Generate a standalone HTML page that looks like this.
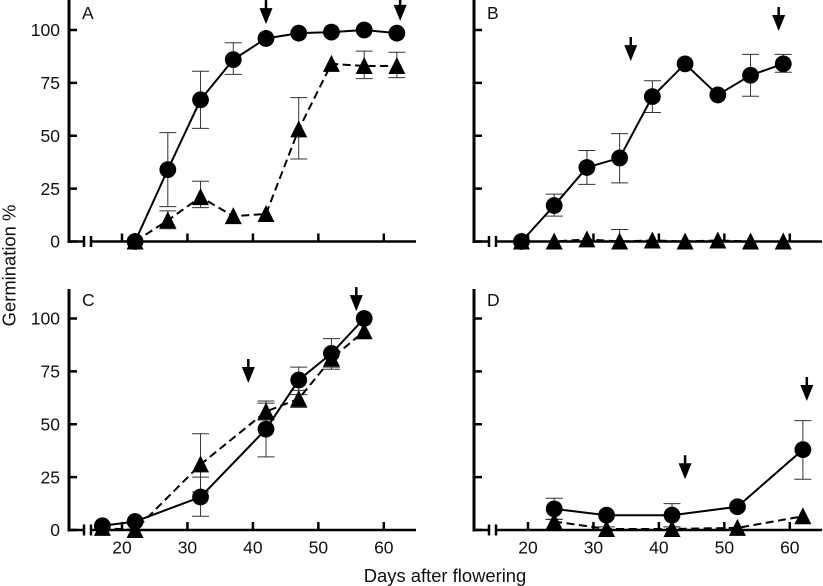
<!DOCTYPE html>
<html lang="en">
<head>
<meta charset="utf-8">
<title>Germination chart</title>
<style>
html,body{margin:0;padding:0;background:#fff;}
svg{display:block;}
text{font-family:"Liberation Sans",Arial,sans-serif;fill:#111;}
</style>
</head>
<body>
<svg id="chart" xmlns="http://www.w3.org/2000/svg" width="823" height="586" viewBox="0 0 823 586">
<text x="0" y="0" font-size="18.4" text-anchor="middle" transform="translate(15.5,265.5) rotate(-90)">Germination %</text>
<text x="445" y="582" font-size="18.4" text-anchor="middle">Days after flowering</text>
</svg>
<script>
const yTicks = [0, 25, 50, 75, 100];
const xTicks = [20, 30, 40, 50, 60];

const aDays = [22, 27, 32, 37, 42, 47, 52, 57, 62];
const aCircle = [0, 34, 67, 86, 96, 98.5, 99, 100, 98.5];
const aCircleLow = [null, 16.5, 53.5, 79, null, null, null, null, null];
const aCircleHigh = [null, 51.5, 80.5, 94, null, null, null, null, null];
const aTriangle = [0, 10, 21, 12, 13, 53, 84, 83, 83];
const aTriangleLow = [null, 6, 16, null, null, 39, null, 77, 77.5];
const aTriangleHigh = [null, 14.5, 28.5, null, null, 68, null, 90, 89.5];
const aArrowDays = [42, 62.5];
const aArrowTips = [102.8, 104.3];

const bDays = [19, 24, 29, 34, 39, 44, 49, 54, 59];
const bCircle = [0, 17, 35, 39.5, 68.5, 84, 69.3, 78.6, 84];
const bCircleLow = [null, 12, 27, 27.7, 61, null, null, 68.7, 80];
const bCircleHigh = [null, 22.4, 43, 51, 76, null, null, 88.5, 88.5];
const bTriangle = [0, 0, 1, 0, 0.5, 0, 0.5, 0, 0];
const bTriangleLow = [null, null, null, null, null, null, null, null, null];
const bTriangleHigh = [null, null, null, 5.7, null, null, null, null, null];
const bArrowDays = [35.7, 58.3];
const bArrowTips = [85.3, 99.5];

const cDays = [17, 22, 32, 42, 47, 52, 57];
const cCircle = [2, 4, 15.6, 47.7, 70.9, 83.5, 100];
const cCircleLow = [null, null, 6.5, 34.6, 66, 77, null];
const cCircleHigh = [null, null, 25, 60, 77, 90.5, null];
const cTriangleDays = [17, 22, 32, 42, 47, 52, 57];
const cTriangle = [1, 0, 31, 56, 62, 81, 94];
const cTriangleLow = [null, null, 18, 52, 58, 76, null];
const cTriangleHigh = [null, null, 45.5, 61, 64, 84, null];
const cArrowDays = [39.3, 55.8];
const cArrowTips = [69.5, 103.5];

const dDays = [24, 32, 42, 52, 62];
const dCircle = [10, 7, 7, 11, 38];
const dCircleLow = [5, null, 1.5, null, 24];
const dCircleHigh = [15, null, 12.5, null, 51.7];
const dTriangle = [4, 0.5, 0.5, 1, 6.5];
const dTriangleLow = [null, null, null, null, null];
const dTriangleHigh = [5, 1.5, 1.5, null, null];
const dArrowDays = [44, 62.6];
const dArrowTips = [24, 61];

const NS = 'http://www.w3.org/2000/svg';
const svg = document.getElementById('chart');

function make(parent, tag, attrs) {
  const e = document.createElementNS(NS, tag);
  for (const k in attrs) e.setAttribute(k, attrs[k]);
  parent.appendChild(e);
  return e;
}

function drawPanel(p) {
  const g = make(svg, 'g', {});
  
  

  const sx = d => p.x20 + (d - 20) * 6.545;
  const sy = v => p.y0 - v * 2.115;

  /* y axis */
  const yAxis = make(g, 'line', {x1: p.axisX, x2: p.axisX, y1: p.top, y2: p.y0 + 1.5, stroke: '#000', 'stroke-width': 3});
  
  

  /* x axis with break */
  const xAxisA = make(g, 'line', {x1: p.axisX, x2: p.axisX + 15, y1: p.y0, y2: p.y0, stroke: '#000', 'stroke-width': 2.5});
  
  
  const xAxisB = make(g, 'line', {x1: p.axisX + 22, x2: p.right, y1: p.y0, y2: p.y0, stroke: '#000', 'stroke-width': 2.5});
  
  
  [p.axisX + 15, p.axisX + 22].forEach(bx => {
    const b = make(g, 'line', {x1: bx, x2: bx, y1: p.y0 - 5.5, y2: p.y0 + 5.5, stroke: '#000', 'stroke-width': 2.5});
    
    
  });

  yTicks.forEach(v => {
    const t = make(g, 'line', {x1: p.axisX, x2: p.axisX + 8, y1: sy(v), y2: sy(v), stroke: '#000', 'stroke-width': 2.5});
    
    
    if (p.yLabels) {
      const s = make(g, 'text', {x: p.axisX - 9, y: sy(v) + 6.2, 'font-size': 17.5, 'text-anchor': 'end'});
      s.textContent = v;
      
      
    }
  });

  xTicks.forEach(d => {
    const t = make(g, 'line', {x1: sx(d), x2: sx(d), y1: p.y0, y2: p.y0 - 8, stroke: '#000', 'stroke-width': 2.5});
    
    
    if (p.xLabels) {
      const s = make(g, 'text', {x: sx(d), y: p.y0 + 23.5, 'font-size': 17.5, 'text-anchor': 'middle'});
      s.textContent = d;
      
      
    }
  });

  const pl = make(g, 'text', {x: p.axisX + 13, y: p.labelY, 'font-size': 17.5});
  pl.textContent = p.label;
  
  

  /* error bars */
  const errors = (days, low, high, name) => {
    days.forEach((d, i) => {
      const pair = [low[i], high[i]];
      const x = sx(d);
      pair.forEach(v => {
        if (v === null) return;
        const cap = make(g, 'line', {x1: x - 8.5, x2: x + 8.5, y1: sy(v), y2: sy(v), stroke: '#333', 'stroke-width': 1});
        
        
      });
      const series = name === 'circle' ? p.circle : p.triangle;
      const a = low[i] === null ? series[i] : low[i];
      const b = high[i] === null ? series[i] : high[i];
      if (low[i] !== null || high[i] !== null) {
        const st = make(g, 'line', {x1: x, x2: x, y1: sy(a), y2: sy(b), stroke: '#333', 'stroke-width': 1});
        
        
      }
    });
  };
  errors(p.triDays, p.triLow, p.triHigh, 'triangle');
  errors(p.days, p.low, p.high, 'circle');

  /* lines */
  const triLine = make(g, 'polyline', {
    points: p.triDays.map((d, i) => sx(d) + ',' + sy(p.triangle[i])).join(' '),
    fill: 'none', stroke: '#000', 'stroke-width': 2, 'stroke-dasharray': '8 4.5'
  });
  
  

  p.triDays.forEach((d, i) => {
    const x = sx(d), y = sy(p.triangle[i]);
    const m = make(g, 'polygon', {points: (x - 8.5) + ',' + (y + 8) + ' ' + (x + 8.5) + ',' + (y + 8) + ' ' + x + ',' + (y - 9), fill: '#000'});
    
    
  });

  const circLine = make(g, 'polyline', {
    points: p.days.map((d, i) => sx(d) + ',' + sy(p.circle[i])).join(' '),
    fill: 'none', stroke: '#000', 'stroke-width': 2
  });
  
  

  p.days.forEach((d, i) => {
    const m = make(g, 'circle', {cx: sx(d), cy: sy(p.circle[i]), r: 8.4, fill: '#000'});
    
    
  });

  /* arrows */
  p.arrowDays.forEach((d, i) => {
    const x = sx(d), tip = sy(p.arrowTips[i]);
    const shaft = make(g, 'line', {x1: x, x2: x, y1: tip - 24, y2: tip - 10, stroke: '#000', 'stroke-width': 2.5});
    
    
    const head = make(g, 'polygon', {points: (x - 6.5) + ',' + (tip - 16) + ' ' + (x + 6.5) + ',' + (tip - 16) + ' ' + x + ',' + tip, fill: '#000'});
    
    
  });
}

drawPanel({label: 'A', axisX: 69, right: 416, top: 0, y0: 241.5, x20: 122, labelY: 19, yLabels: true, xLabels: false,
  days: aDays, circle: aCircle, low: aCircleLow, high: aCircleHigh,
  triDays: aDays, triangle: aTriangle, triLow: aTriangleLow, triHigh: aTriangleHigh,
  arrowDays: aArrowDays, arrowTips: aArrowTips});
drawPanel({label: 'B', axisX: 474, right: 822, top: 0, y0: 241.5, x20: 528, labelY: 19, yLabels: false, xLabels: false,
  days: bDays, circle: bCircle, low: bCircleLow, high: bCircleHigh,
  triDays: bDays, triangle: bTriangle, triLow: bTriangleLow, triHigh: bTriangleHigh,
  arrowDays: bArrowDays, arrowTips: bArrowTips});
drawPanel({label: 'C', axisX: 69, right: 416, top: 289, y0: 530, x20: 122, labelY: 306, yLabels: true, xLabels: true,
  days: cDays, circle: cCircle, low: cCircleLow, high: cCircleHigh,
  triDays: cTriangleDays, triangle: cTriangle, triLow: cTriangleLow, triHigh: cTriangleHigh,
  arrowDays: cArrowDays, arrowTips: cArrowTips});
drawPanel({label: 'D', axisX: 474, right: 822, top: 289, y0: 530, x20: 528, labelY: 306, yLabels: false, xLabels: true,
  days: dDays, circle: dCircle, low: dCircleLow, high: dCircleHigh,
  triDays: dDays, triangle: dTriangle, triLow: dTriangleLow, triHigh: dTriangleHigh,
  arrowDays: dArrowDays, arrowTips: dArrowTips});
</script>
</body>
</html>
